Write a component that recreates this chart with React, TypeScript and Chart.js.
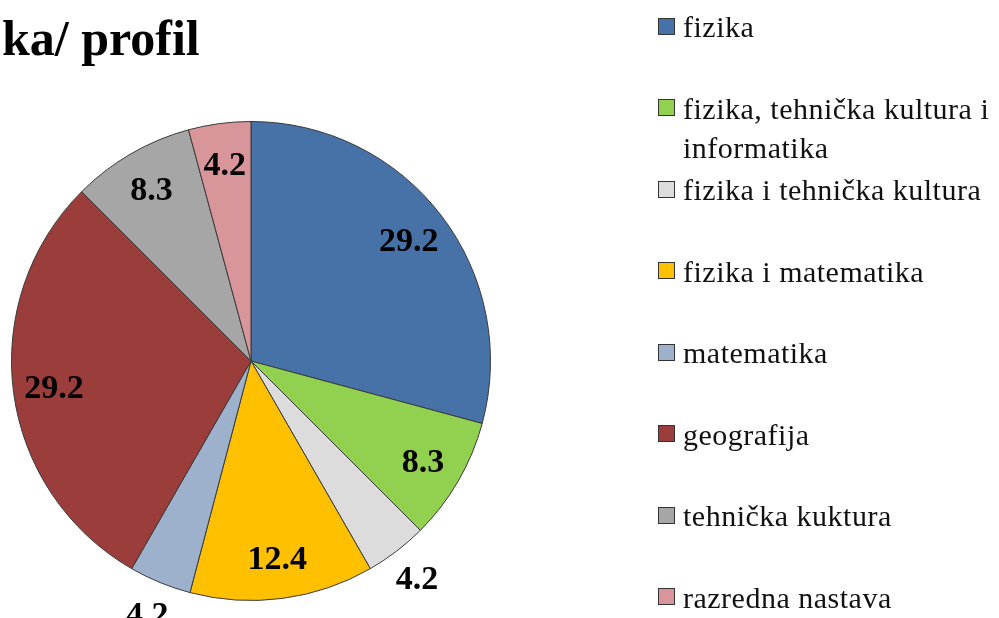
import React, { useEffect, useRef } from "react";
import { Chart, registerables } from "chart.js";

Chart.register(...registerables);

const titleText = "ka/ profil";
const categories = [
  "fizika",
  "fizika, tehnička kultura i informatika",
  "fizika i tehnička kultura",
  "fizika i matematika",
  "matematika",
  "geografija",
  "tehnička kuktura",
  "razredna nastava",
];
const values = [29.2, 8.3, 4.2, 12.4, 4.2, 29.2, 8.3, 4.2];
const valueLabels = ["29.2", "8.3", "4.2", "12.4", "4.2", "29.2", "8.3", "4.2"];

const sliceColors = [
  "#4672A8",
  "#92D050",
  "#DCDCDC",
  "#FFC000",
  "#9DB0CC",
  "#9B3D3B",
  "#A6A6A6",
  "#D8969A",
];
const labelOutside = [false, false, true, false, true, false, false, false];

const SERIF = "'Liberation Serif', 'Times New Roman', serif";

function wrapText(ctx: CanvasRenderingContext2D, text: string, maxWidth: number): string[] {
  const words = text.split(" ");
  const lines: string[] = [];
  let cur = "";
  for (const w of words) {
    const test = cur ? cur + " " + w : w;
    if (ctx.measureText(test).width > maxWidth && cur) {
      lines.push(cur);
      cur = w;
    } else {
      cur = test;
    }
  }
  if (cur) lines.push(cur);
  return lines;
}

const overlayPlugin = {
  id: "overlay",
  afterDatasetsDraw(chart: any) {
    const ctx: CanvasRenderingContext2D = chart.ctx;
    const meta = chart.getDatasetMeta(0);
    ctx.save();

    // value labels
    const labelSize = 34;
    ctx.font = `bold ${labelSize}px ${SERIF}`;
    ctx.fillStyle = "#000";
    ctx.textAlign = "center";
    ctx.textBaseline = "alphabetic";
    meta.data.forEach((arc: any, i: number) => {
      const p = arc.getProps(["x", "y", "startAngle", "endAngle", "outerRadius"], true);
      const mid = (p.startAngle + p.endAngle) / 2;
      const f = labelOutside[i] ? 1.14 : 0.83;
      const x = p.x + Math.cos(mid) * p.outerRadius * f;
      const y = p.y + Math.sin(mid) * p.outerRadius * f;
      ctx.fillText(valueLabels[i], x, y + labelSize * 0.33);
    });

    // title
    ctx.textAlign = "left";
    ctx.font = `bold 50px ${SERIF}`;
    ctx.fillText(titleText, 2, 55);

    // legend
    const legendSize = 30;
    ctx.font = `${legendSize}px ${SERIF}`;
    (ctx as any).letterSpacing = "0.5px";
    ctx.fillStyle = "#111";
    const textX = 683;
    const boxX = 658;
    const box = 17;
    const firstBaseline = 37;
    const step = 81.5;
    const lineGap = 39;
    categories.forEach((cat, i) => {
      const base = firstBaseline + i * step;
      const top = Math.round(base - 11 - box / 2);
      ctx.fillStyle = sliceColors[i];
      ctx.fillRect(boxX, top, box, box);
      ctx.strokeStyle = "#333";
      ctx.lineWidth = 1;
      ctx.strokeRect(boxX + 0.5, top + 0.5, box - 1, box - 1);
      ctx.fillStyle = "#111";
      const lines = wrapText(ctx, cat, 308);
      lines.forEach((ln, j) => {
        ctx.fillText(ln, textX, base + j * lineGap);
      });
    });

    ctx.restore();
  },
};

export default function App() {
  const canvasRef = useRef<HTMLCanvasElement | null>(null);

  useEffect(() => {
    const canvas = canvasRef.current;
    if (!canvas) return;
    const chart = new Chart(canvas, {
      type: "pie",
      data: {
        labels: categories,
        datasets: [
          {
            data: values,
            backgroundColor: sliceColors,
            borderColor: "#3a3a3a",
            borderWidth: 1,
          },
        ],
      },
      options: {
        responsive: false,
        animation: false,
        devicePixelRatio: 1,
        layout: { padding: { left: 11, right: 508, top: 121, bottom: 17 } },
        plugins: {
          legend: { display: false },
          tooltip: { enabled: false },
          title: { display: false },
        },
      },
      plugins: [overlayPlugin],
    });
    return () => chart.destroy();
  }, []);

  return (
    <div
      style={{
        position: "absolute",
        left: 0,
        top: 0,
        width: 999,
        height: 618,
        background: "#fff",
        overflow: "hidden",
      }}
    >
      <canvas ref={canvasRef} width={999} height={618} style={{ display: "block" }} />
    </div>
  );
}
